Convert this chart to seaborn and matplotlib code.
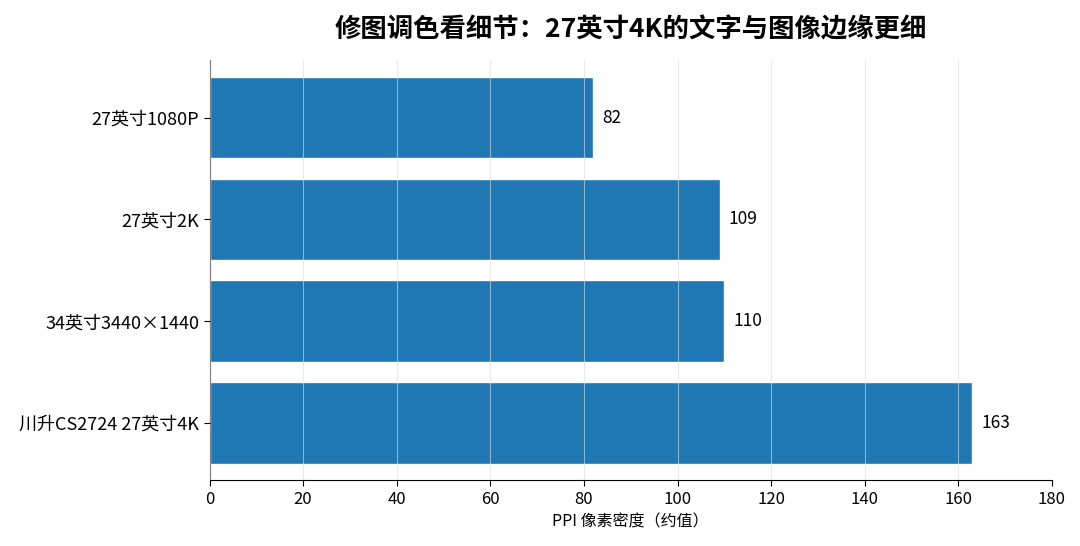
import matplotlib
matplotlib.use("Agg")
import matplotlib.pyplot as plt
import pandas as pd
import seaborn as sns

labels = ["27英寸1080P", "27英寸2K", "34英寸3440×1440", "川升CS2724 27英寸4K"]
ppi = [82, 109, 110, 163]

sns.set_style("white")
plt.rcParams['font.family'] = ['Noto Sans CJK SC', 'DejaVu Sans']
plt.rcParams['text.color'] = 'black'
plt.rcParams['axes.labelcolor'] = 'black'
plt.rcParams['xtick.color'] = 'black'
plt.rcParams['ytick.color'] = 'black'
plt.rcParams['axes.edgecolor'] = 'black'

df = pd.DataFrame({"label": labels, "ppi": ppi})

fig, ax = plt.subplots(figsize=(10.8, 5.46), dpi=100)
fig.subplots_adjust(left=0.194, right=0.974, top=0.89, bottom=0.12)

sns.barplot(data=df, x="ppi", y="label", color="#1f77b4", saturation=1, width=0.8, ax=ax)
ax.set_xlim(0, 180)
ax.set_ylim(3.565, -0.565)
ax.set_xticks(range(0, 181, 20))
ax.grid(axis="x", color="#dddddd", linewidth=0.8, alpha=0.6)
ax.set_axisbelow(False)
for c in ax.patches:
    c.set_zorder(1)
for g in ax.get_xgridlines():
    g.set_zorder(2)

for i, v in enumerate(ppi):
    ax.text(v + 2, i, str(v), va="center", ha="left", fontsize=12.5)

sns.despine(ax=ax, top=True, right=True)
ax.tick_params(axis="y", labelsize=13, length=4, left=True)
ax.tick_params(axis="x", labelsize=12, length=4, bottom=True)
ax.set_ylabel("")
ax.set_xlabel("PPI 像素密度（约值）", fontsize=11.5)
ax.set_title("修图调色看细节：27英寸4K的文字与图像边缘更细", fontsize=19, fontweight="bold", pad=16)

fig.savefig("out.png", dpi=100)
